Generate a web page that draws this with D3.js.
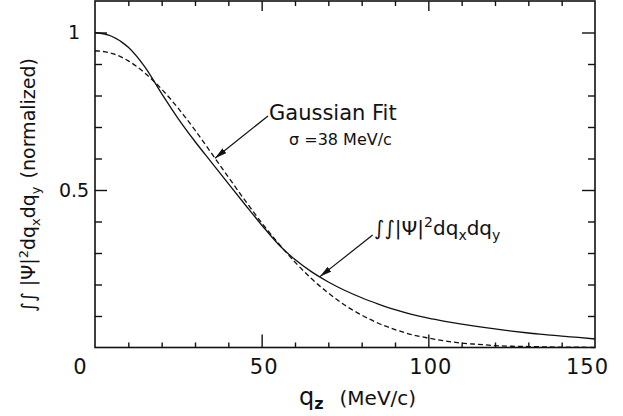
<!DOCTYPE html>
<html>
<head>
<meta charset="utf-8">
<script src="https://cdn.jsdelivr.net/npm/d3@7"></script>
<style>
  body { margin: 0; background: #fff; }
  text { font-family: "DejaVu Sans", "Noto Sans", sans-serif; fill: #111; }
</style>
</head>
<body>
<svg id="chart" width="623" height="416"></svg>
<script>
// Longitudinal momentum q_z (MeV/c)
const qz = [0, 5, 10, 15, 20, 25, 30, 35, 40, 45, 50, 55, 60, 65, 70, 75,
            80, 85, 90, 95, 100, 105, 110, 115, 120, 125, 130, 135, 140, 145, 150];
// ∫∫|Ψ|² dq_x dq_y, normalized (solid)
const psiIntegral = [1.000, 0.988, 0.953, 0.890, 0.806, 0.726, 0.654, 0.587, 0.520, 0.454, 0.389,
                     0.328, 0.279, 0.240, 0.208, 0.181, 0.158, 0.138, 0.120, 0.105, 0.093,
                     0.083, 0.074, 0.066, 0.059, 0.052, 0.046, 0.041, 0.036, 0.032, 0.027];
// Gaussian fit, sigma = 38 MeV/c (dashed)
const gaussFit = [0.942, 0.934, 0.910, 0.871, 0.820, 0.759, 0.690, 0.616, 0.541, 0.467, 0.396,
                  0.331, 0.271, 0.218, 0.173, 0.134, 0.103, 0.077, 0.057, 0.041, 0.030,
                  0.021, 0.014, 0.010, 0.006, 0.004, 0.003, 0.002, 0.001, 0.001, 0.000];
const xMajor = [0, 50, 100, 150];
const xMinor = [10, 20, 30, 40, 60, 70, 80, 90, 110, 120, 130, 140];
const yMajor = [0.5, 1];
const yMinor = [0.1, 0.2, 0.3, 0.4, 0.6, 0.7, 0.8, 0.9];

const svg = d3.select("#chart");
const plotL = 95, plotR = 595, plotT = 1, plotB = 347.5;
const x = d3.scaleLinear().domain([0, 150]).range([plotL, plotR]);
const y = d3.scaleLinear().domain([0, 1.1]).range([plotB, plotT]);

const ink = "#111";

// tick marks on all four sides, pointing inward
function ticks(axisGen, vals, size, transform) {
  const g = svg.append("g").attr("transform", transform)
    .call(axisGen.tickValues(vals).tickSize(size).tickFormat(""));
  g.select(".domain").remove();
  g.selectAll("line").attr("stroke", ink).attr("stroke-width", 1.4);
}
ticks(d3.axisBottom(x), xMinor, -5, `translate(0,${plotB})`);
ticks(d3.axisBottom(x), [50, 100], -13, `translate(0,${plotB})`);
ticks(d3.axisTop(x), xMinor, -5, `translate(0,${plotT})`);
ticks(d3.axisTop(x), [50, 100], -10, `translate(0,${plotT})`);
ticks(d3.axisLeft(y), yMinor, -7, `translate(${plotL},0)`);
ticks(d3.axisLeft(y), yMajor, -12, `translate(${plotL},0)`);
ticks(d3.axisRight(y), yMinor, -7, `translate(${plotR},0)`);
ticks(d3.axisRight(y), yMajor, -13, `translate(${plotR},0)`);

// frame
svg.append("rect")
  .attr("x", plotL).attr("y", plotT)
  .attr("width", plotR - plotL).attr("height", plotB - plotT)
  .attr("fill", "none").attr("stroke", ink).attr("stroke-width", 1.6);

// tick labels
const xLab = svg.append("g").attr("transform", `translate(0,${plotB})`)
  .call(d3.axisBottom(x).tickValues(xMajor).tickSize(0).tickPadding(12).tickFormat(d3.format("d")));
xLab.select(".domain").remove();
xLab.selectAll("text")
  .style("font-size", "21px").style("letter-spacing", "1px")
  .attr("fill", ink)
  .attr("dx", d => d === 0 ? -15 : (d === 150 ? -8 : 2));

const yLab = svg.append("g").attr("transform", `translate(${plotL},0)`)
  .call(d3.axisLeft(y).tickValues(yMajor).tickSize(0).tickPadding(0).tickFormat(d => d === 1 ? "1" : "0.5"));
yLab.select(".domain").remove();
yLab.selectAll("text")
  .style("font-size", "19px").attr("fill", ink)
  .attr("text-anchor", "middle").attr("x", -21);

// curves
const line = vals => d3.line().x((d, i) => x(qz[i])).y(d => y(d)).curve(d3.curveMonotoneX)(vals);
svg.append("path").attr("d", line(psiIntegral))
  .attr("fill", "none").attr("stroke", ink).attr("stroke-width", 1.3);
svg.append("path").attr("d", line(gaussFit))
  .attr("fill", "none").attr("stroke", ink).attr("stroke-width", 1.3)
  .attr("stroke-dasharray", "5,3");

// arrows
svg.append("defs").append("marker")
  .attr("id", "head").attr("viewBox", "0 0 12 6")
  .attr("refX", 12).attr("refY", 3)
  .attr("markerWidth", 12).attr("markerHeight", 6)
  .attr("markerUnits", "userSpaceOnUse").attr("orient", "auto")
  .append("path").attr("d", "M0,0 L12,3 L0,6 Z").attr("fill", ink);

function arrow(q0, v0, q1, v1) {
  svg.append("line")
    .attr("x1", x(q0)).attr("y1", y(v0)).attr("x2", x(q1)).attr("y2", y(v1))
    .attr("stroke", ink).attr("stroke-width", 1.2).attr("marker-end", "url(#head)");
}
arrow(51.9, 0.735, 36, 0.601);   // to the Gaussian fit
arrow(83.3, 0.357, 67.5, 0.225); // to the integrated distribution

// annotations
svg.append("text").attr("x", 269).attr("y", 120)
  .style("font-size", "21px").text("Gaussian Fit");
svg.append("text").attr("x", 289).attr("y", 145)
  .style("font-size", "16px").text("σ =38 MeV/c");

const ann = svg.append("text").attr("x", 374).attr("y", 235).style("font-size", "20px");
ann.append("tspan").text("∫∫|Ψ|");
ann.append("tspan").attr("dy", -8).style("font-size", "14px").text("2");
ann.append("tspan").attr("dy", 8).text("dq");
ann.append("tspan").attr("dy", 5).style("font-size", "14px").text("x");
ann.append("tspan").attr("dy", -5).text("dq");
ann.append("tspan").attr("dy", 5).style("font-size", "14px").text("y");

// axis titles
const xt = svg.append("text").attr("x", 299).attr("y", 405).style("font-size", "24px");
xt.append("tspan").text("q");
xt.append("tspan").attr("dy", 4).style("font-size", "16px").style("font-weight", "bold").text("z");
xt.append("tspan").attr("dy", -4).attr("dx", 16).style("font-size", "20px").text("(MeV/c)");

const yt = svg.append("text")
  .attr("transform", "translate(35,185) rotate(-90)")
  .attr("text-anchor", "middle").style("font-size", "19px");
yt.append("tspan").text("∫∫ |Ψ|");
yt.append("tspan").attr("dy", -7).style("font-size", "13px").text("2");
yt.append("tspan").attr("dy", 7).text("dq");
yt.append("tspan").attr("dy", 5).style("font-size", "13px").text("x");
yt.append("tspan").attr("dy", -5).text("dq");
yt.append("tspan").attr("dy", 5).style("font-size", "13px").text("y");
yt.append("tspan").attr("dy", -5).attr("dx", 8).text("(normalized)");
</script>
</body>
</html>
